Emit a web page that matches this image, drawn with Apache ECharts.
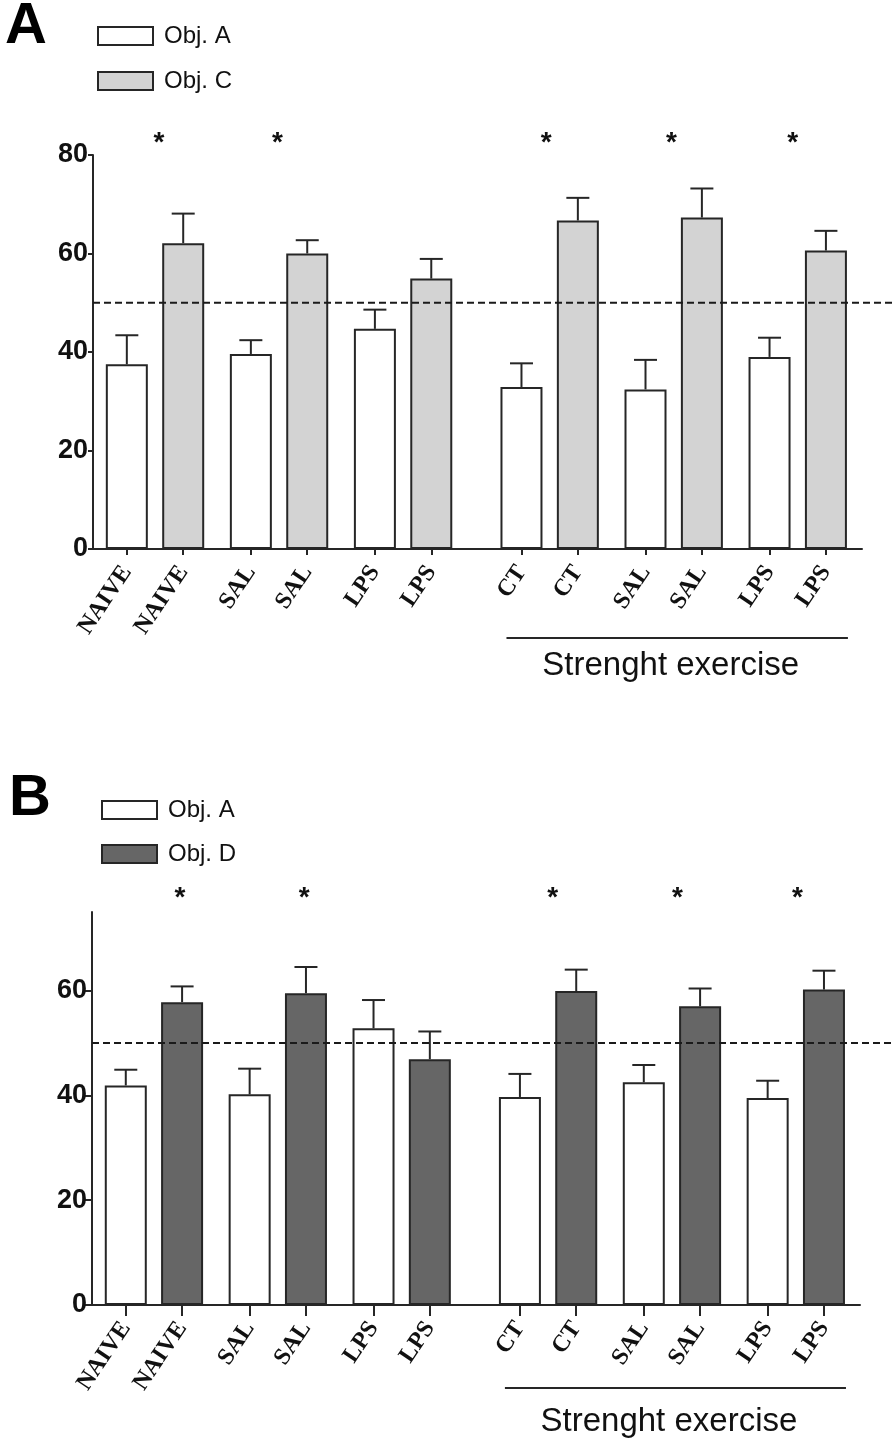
<!DOCTYPE html>
<html><head><meta charset="utf-8">
<script src="https://cdn.jsdelivr.net/npm/echarts@6/dist/echarts.min.js"></script>
<style>html,body{margin:0;padding:0;background:#fff}#c{width:896px;height:1448px}</style>
</head><body><div id="c"></div>
<script>
// ---------------- DATA ----------------
const pairLabels = ['NAIVE', 'SAL', 'LPS', 'CT', 'SAL', 'LPS'];
const exerciseLabel = 'Strenght exercise';
const chanceLevel = 50;

const A_objA     = [37.5, 39.6, 44.7, 32.9, 32.4, 39.0];
const A_objA_sem = [5.9, 2.8, 3.9, 4.8, 6.0, 3.9];
const A_objC     = [62.1, 60.0, 54.9, 66.7, 67.3, 60.6];
const A_objC_sem = [6.0, 2.7, 4.0, 4.6, 5.9, 4.0];
const A_sig      = [true, true, false, true, true, true];
const A_yTicks   = [0, 20, 40, 60, 80];

const B_objA     = [41.9, 40.2, 52.8, 39.7, 42.5, 39.5];
const B_objA_sem = [3.0, 4.9, 5.4, 4.4, 3.3, 3.3];
const B_objD     = [57.8, 59.5, 46.9, 59.9, 57.0, 60.2];
const B_objD_sem = [3.0, 5.0, 5.3, 4.1, 3.4, 3.6];
const B_sig      = [true, true, false, true, true, true];
const B_yTicks   = [0, 20, 40, 60];

// ---------------- LAYOUT ----------------
const X0 = 3, PAIR_STEP = 11, SUB_STEP = 5, GROUP_GAP = 2, XMAX = 68.2, EXERCISE_START = 3;
function barPos(pair, sub) { return X0 + pair * PAIR_STEP + sub * SUB_STEP + (pair >= EXERCISE_START ? GROUP_GAP : 0); }
const starShiftA = [0.57, 0.47, 0.5, 0.44, 0.46, 0.41];
const starShiftB = [0.96, 0.97, 0.5, 0.58, 0.60, 0.53];
const INK = '#262626';
const SANS = "'Liberation Sans Narrow', 'Liberation Sans', Arial, sans-serif";

const panels = [
  { letter: 'A', names: ['Obj. A', 'Obj. C'], a: A_objA, aSem: A_objA_sem, b: A_objC, bSem: A_objC_sem,
    sig: A_sig, starShift: starShiftA, fill: '#d3d3d3', yMax: 80, yTicks: A_yTicks,
    grid: { left: 93, top: 155, width: 769, height: 394 }, yTickLen: 5, xTickLen: 6, crossTicks: false,
    legendTop: 19, legendLeft: 92, legendGap: 21, letterPos: { left: 0, top: -7 }, starUp: 12, bracketDy: 89, textDy: 117 },
  { letter: 'B', names: ['Obj. A', 'Obj. D'], a: B_objA, aSem: B_objA_sem, b: B_objD, bSem: B_objD_sem,
    sig: B_sig, starShift: starShiftB, fill: '#666666', yMax: 75, yTicks: B_yTicks,
    grid: { left: 92, top: 912, width: 768, height: 393 }, yTickLen: 9, xTickLen: 11, crossTicks: true,
    legendTop: 793, legendLeft: 96, legendGap: 20, letterPos: { left: 4, top: 765 }, starUp: 14, bracketDy: 83, textDy: 117 }
];

const option = { animation: false, backgroundColor: '#fff', title: [], legend: [], grid: [], xAxis: [], yAxis: [], series: [] };

panels.forEach((p, gi) => {
  const positions = [], labelMap = {};
  pairLabels.forEach((lab, i) => {
    [0, 1].forEach(s => { const x = barPos(i, s); positions.push(x); labelMap[x] = lab; });
  });
  option.title.push({ text: p.letter, left: p.letterPos.left, top: p.letterPos.top,
    textStyle: { fontSize: 58, fontWeight: 'bold', color: '#000', fontFamily: 'Liberation Sans, Arial, sans-serif' } });
  option.legend.push({ data: p.names, orient: 'vertical', left: p.legendLeft, top: p.legendTop, icon: 'rect',
    itemWidth: 55, itemHeight: 18, itemGap: p.legendGap, selectedMode: false,
    itemStyle: { borderColor: INK, borderWidth: 2 },
    textStyle: { fontSize: 24, color: '#111', fontFamily: SANS, lineHeight: 20, padding: [0, 0, 0, 6] } });
  option.grid.push(Object.assign({ containLabel: false }, p.grid));
  const xi = option.xAxis.length;
  option.xAxis.push({ gridIndex: gi, type: 'value', min: 0, max: XMAX, position: 'bottom',
    axisLine: { show: true, onZero: false, lineStyle: { color: INK, width: 2 } },
    axisTick: { show: true, length: p.xTickLen, customValues: positions, lineStyle: { color: INK, width: 2 } },
    axisLabel: { show: true, customValues: positions, rotate: 56, margin: 19, color: '#111',
      fontFamily: "'Liberation Serif', 'Times New Roman', serif", fontWeight: 'bold', fontSize: 24,
      formatter: v => labelMap[v] || '' },
    splitLine: { show: false } });
  if (p.crossTicks) {
    option.xAxis.push({ gridIndex: gi, type: 'value', min: 0, max: XMAX, position: 'bottom',
      axisLine: { show: false }, axisLabel: { show: false }, splitLine: { show: false },
      axisTick: { show: true, inside: true, length: p.xTickLen, customValues: positions, lineStyle: { color: INK, width: 2 } } });
  }
  option.yAxis.push({ gridIndex: gi, type: 'value', min: 0, max: p.yMax, interval: 20,
    axisLine: { show: true, lineStyle: { color: INK, width: 2 } },
    axisTick: { show: true, length: p.yTickLen, customValues: p.yTicks, lineStyle: { color: INK, width: 2 } },
    axisLabel: { customValues: p.yTicks, margin: 5, color: '#111', fontSize: 27, fontWeight: 'bold',
      fontFamily: 'Liberation Sans, Arial, sans-serif' },
    splitLine: { show: false } });

  const barStyle = (fill) => ({ color: fill, borderColor: INK, borderWidth: 2 });
  option.series.push({ type: 'bar', name: p.names[0], xAxisIndex: xi, yAxisIndex: gi, barWidth: 42, barGap: '-100%',
    itemStyle: barStyle('#ffffff'), data: p.a.map((v, i) => [barPos(i, 0), v]), z: 2 });
  option.series.push({ type: 'bar', name: p.names[1], xAxisIndex: xi, yAxisIndex: gi, barWidth: 42, barGap: '-100%',
    itemStyle: barStyle(p.fill), data: p.b.map((v, i) => [barPos(i, 1), v]), z: 2 });

  // error bars (upper only)
  const errData = [];
  p.a.forEach((v, i) => errData.push([barPos(i, 0), v, p.aSem[i]]));
  p.b.forEach((v, i) => errData.push([barPos(i, 1), v, p.bSem[i]]));
  option.series.push({ type: 'custom', xAxisIndex: xi, yAxisIndex: gi, z: 3, silent: true, clip: false,
    encode: { x: 0, y: 1 }, data: errData,
    renderItem: (params, api) => {
      const x = api.value(0), m = api.value(1), e = api.value(2);
      const p0 = api.coord([x, m]), p1 = api.coord([x, m + e]);
      const st = { stroke: INK, lineWidth: 2 };
      return { type: 'group', children: [
        { type: 'line', shape: { x1: p0[0], y1: p0[1], x2: p1[0], y2: p1[1] }, style: st },
        { type: 'line', shape: { x1: p1[0] - 11.5, y1: p1[1], x2: p1[0] + 11.5, y2: p1[1] }, style: st } ] };
    } });

  // chance level dashed line
  option.series.push({ type: 'custom', xAxisIndex: xi, yAxisIndex: gi, z: 5, silent: true, clip: false,
    encode: { x: 0, y: 1 }, data: [[0, chanceLevel]],
    renderItem: (params, api) => {
      const c = api.coord([api.value(0), api.value(1)]);
      return { type: 'line', shape: { x1: c[0], y1: c[1], x2: api.getWidth() - 3, y2: c[1] },
        style: { stroke: '#1a1a1a', lineWidth: 2, lineDash: [7, 4] } };
    } });

  // significance stars
  const starData = [];
  p.sig.forEach((s, i) => { if (s) starData.push([barPos(i, 0) + p.starShift[i] * SUB_STEP, 0]); });
  option.series.push({ type: 'custom', xAxisIndex: xi, yAxisIndex: gi, z: 5, silent: true, clip: false,
    encode: { x: 0, y: 1 }, data: starData,
    renderItem: (params, api) => {
      const c = api.coord([api.value(0), 0]);
      return { type: 'text', x: c[0], y: params.coordSys.y - p.starUp,
        style: { text: '*', fill: '#111', font: 'bold 28px Liberation Sans, Arial, sans-serif',
          textAlign: 'center', textVerticalAlign: 'middle', align: 'center', verticalAlign: 'middle' } };
    } });

  // exercise bracket + caption
  option.series.push({ type: 'custom', xAxisIndex: xi, yAxisIndex: gi, z: 5, silent: true, clip: false,
    encode: { x: 0, y: 1 }, data: [[barPos(EXERCISE_START, 0), 0, barPos(pairLabels.length - 1, 1)]],
    renderItem: (params, api) => {
      const c1 = api.coord([api.value(0), 0]), c2 = api.coord([api.value(2), 0]);
      const base = params.coordSys.y + params.coordSys.height;
      return { type: 'group', children: [
        { type: 'line', shape: { x1: c1[0] - 15, y1: base + p.bracketDy, x2: c2[0] + 22, y2: base + p.bracketDy },
          style: { stroke: INK, lineWidth: 2 } },
        { type: 'text', x: (c1[0] + c2[0]) / 2 - 3, y: base + p.textDy,
          style: { text: exerciseLabel, fill: '#111', font: '33px ' + SANS,
            textAlign: 'center', textVerticalAlign: 'middle', align: 'center', verticalAlign: 'middle' } } ] };
    } });
});

const chart = echarts.init(document.getElementById('c'), null, { renderer: 'canvas' });
chart.setOption(option);
</script></body></html>
